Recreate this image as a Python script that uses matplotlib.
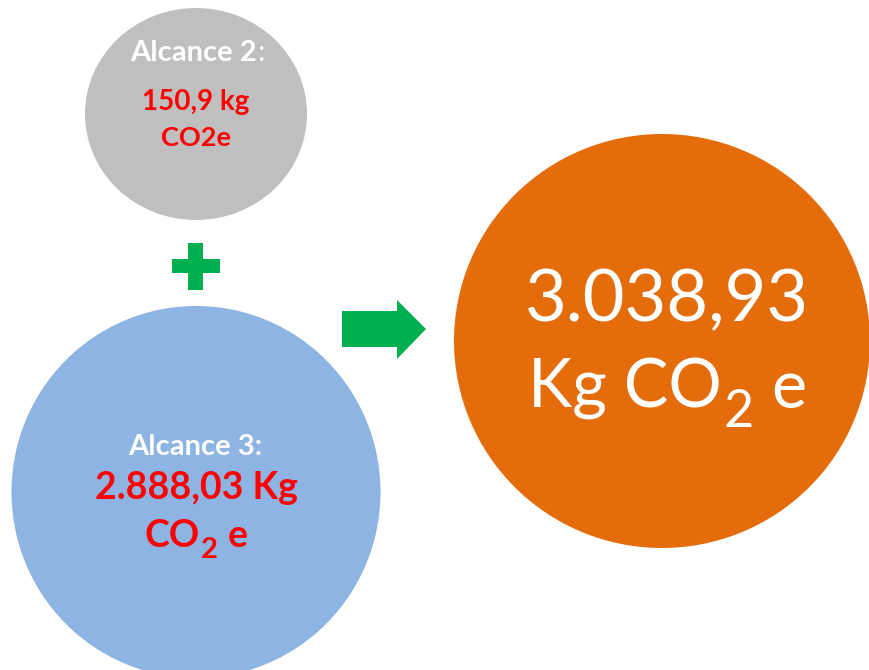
import matplotlib
matplotlib.use('Agg')
import matplotlib.pyplot as plt
from matplotlib.patches import Ellipse, Polygon

plt.rcParams['font.family'] = ['Lato', 'DejaVu Sans']

# data
scope_names = ['Alcance 2', 'Alcance 3']
scope_values = ['150,9 kg', '2.888,03 Kg']
scope_unit_2 = 'CO2e'
total_value = '3.038,93'
co2_parts = ('CO', '2', ' e')

gray = '#BFBFBF'
blue = '#8EB4E3'
orange = '#E46C0A'
green = '#00B050'
red = '#FF0000'

fig = plt.figure(figsize=(8.7, 6.7), dpi=100)
ax = fig.add_axes([0, 0, 1, 1])
ax.set_xlim(0, 870)
ax.set_ylim(670, 0)
ax.axis('off')
renderer = fig.canvas.get_renderer()


def width_of(s, **kw):
    t = ax.text(0, 0, s, **kw)
    w = t.get_window_extent(renderer).width
    t.remove()
    return w


def sub_text(xc, y, pre, sub, post, size, color, weight='normal',
             scale=0.78, drop=0.28, gap=0.0):
    kw = dict(color=color, fontweight=weight, va='baseline', ha='left')
    w1 = width_of(pre, fontsize=size, **kw)
    w2 = width_of(sub, fontsize=size * scale, **kw)
    w3 = width_of(post, fontsize=size, **kw)
    g = gap * size
    x = xc - (w1 + w2 + w3 + 2 * g) / 2
    ax.text(x, y, pre, fontsize=size, **kw)
    ax.text(x + w1 + g, y + drop * size * 100 / 72, sub, fontsize=size * scale, **kw)
    ax.text(x + w1 + w2 + 2 * g, y, post, fontsize=size, **kw)


# circles
ax.add_patch(Ellipse((196, 114), 222, 212, color=gray, lw=0))
ax.add_patch(Ellipse((196, 492), 369, 372, color=blue, lw=0))
ax.add_patch(Ellipse((662, 341), 416, 414, color=orange, lw=0))

# plus sign
ax.add_patch(Polygon([(188, 243), (203, 243), (203, 259), (220, 259), (220, 273),
                      (203, 273), (203, 290), (188, 290), (188, 273), (172, 273),
                      (172, 259), (188, 259)], closed=True, color=green, lw=0))
# arrow
ax.add_patch(Polygon([(342, 311), (397, 311), (397, 300), (426, 329), (397, 359),
                      (397, 347), (342, 347)], closed=True, color=green, lw=0))

# Alcance 2
ax.text(257, 61, scope_names[0], color='white', fontsize=21, fontweight='bold',
        ha='right', va='baseline')
ax.text(257, 61, ':', color='white', fontsize=21, ha='left', va='baseline')
ax.text(196, 110, scope_values[0], color=red, fontsize=20, fontweight='bold',
        ha='center', va='baseline')
ax.text(196, 146, scope_unit_2, color=red, fontsize=19.5, fontweight='bold',
        ha='center', va='baseline')

# Alcance 3
ax.text(195, 455, scope_names[1] + ':', color='white', fontsize=21, fontweight='bold',
        ha='center', va='baseline')
ax.text(196, 499, scope_values[1], color=red, fontsize=27, fontweight='bold',
        ha='center', va='baseline')
sub_text(196, 547, *co2_parts, size=27, color=red, weight='bold', gap=0.04)

# total
ax.text(667, 321, total_value, color='white', fontsize=52,
        ha='center', va='baseline')
sub_text(668, 408, 'Kg ' + co2_parts[0], co2_parts[1], co2_parts[2],
         size=48, color='white', gap=0.03)

fig.savefig('out.png', dpi=100)
